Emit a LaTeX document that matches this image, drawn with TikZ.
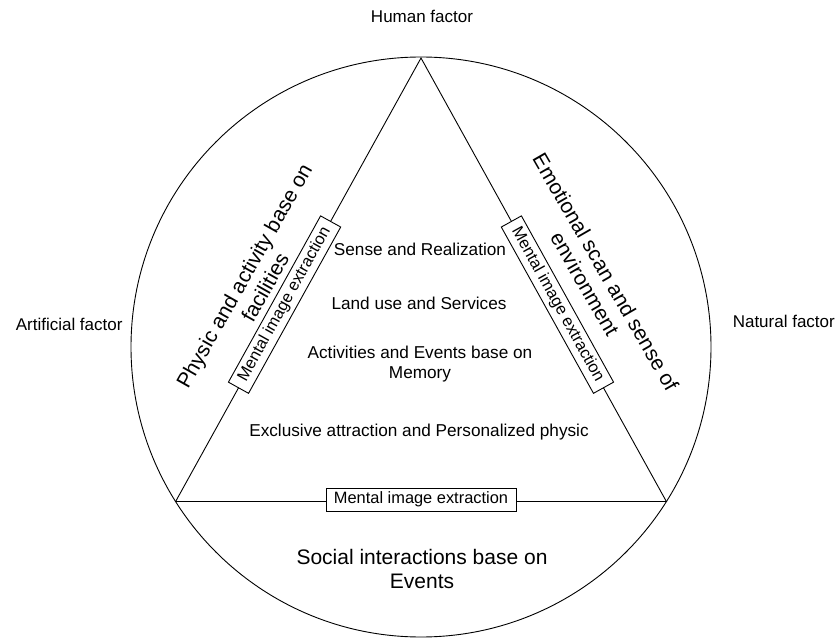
\documentclass[tikz,border=0pt]{standalone}
\usepackage{fontspec}
\setmainfont{Liberation Sans}
\usetikzlibrary{calc,positioning}

\begin{document}
\begin{tikzpicture}[x=1pt,y=1pt,line width=0.9pt,
        factor/.style={font=\fontsize{17}{20}\selectfont},
        inner/.style={font=\fontsize{17.2}{20}\selectfont,align=center},
        side/.style={font=\fontsize{21}{24}\selectfont,align=center},
        extract/.style={draw,fill=white,inner xsep=8pt,inner ysep=0pt,minimum height=23pt,font=\fontsize{16.4}{19}\selectfont}]
            \useasboundingbox (0,0) rectangle (835,638);
            \coordinate (c) at (421,291);
            \draw (c) circle [radius=290pt];
            \coordinate (human) at ($(c)+(90:289)$);
            \coordinate (artificial) at ($(c)+(212.2:290)$);
            \coordinate (natural) at ($(c)+(-32.2:290)$);
            \draw (human) -- (artificial) -- (natural) -- cycle;
            \node[factor,anchor=base] (humanlabel) at (422,615) {Human factor};
            \node[factor,anchor=base west] (artificiallabel) at (12,308) {Artificial factor};
            \node[factor,anchor=base west] (naturallabel) at (729,310) {Natural factor};
            \node[inner,anchor=base] (sense) at (420,382) {Sense and Realization};
            \node[inner,anchor=base] (landuse) at (419,328) {Land use and Services};
            \node[inner] (activities) at (420,274.4) {Activities and Events base on\\Memory};
            \node[inner,anchor=base] (exclusive) at (419,202) {Exclusive attraction and Personalized physic};
            \node[side,rotate=60.5] (physic) at (254.5,356.5) {Physic and activity base on\\facilities};
            \node[side,rotate=-60] (emotional) at (595.5,360) {Emotional scan and sense of\\environment};
            \node[side] (social) at (422,69.5) {Social interactions base on\\Events};
            \node[extract,rotate=61] (leftbox) at ($(human)!0.556!(artificial)$) {Mental image extraction};
            \node[extract,rotate=-61] (rightbox) at ($(human)!0.556!(natural)$) {Mental image extraction};
            \node[extract] (basebox) at ($(artificial)!0.5!(natural)+(0,2)$) {Mental image extraction};
        \end{tikzpicture}
\end{document}
